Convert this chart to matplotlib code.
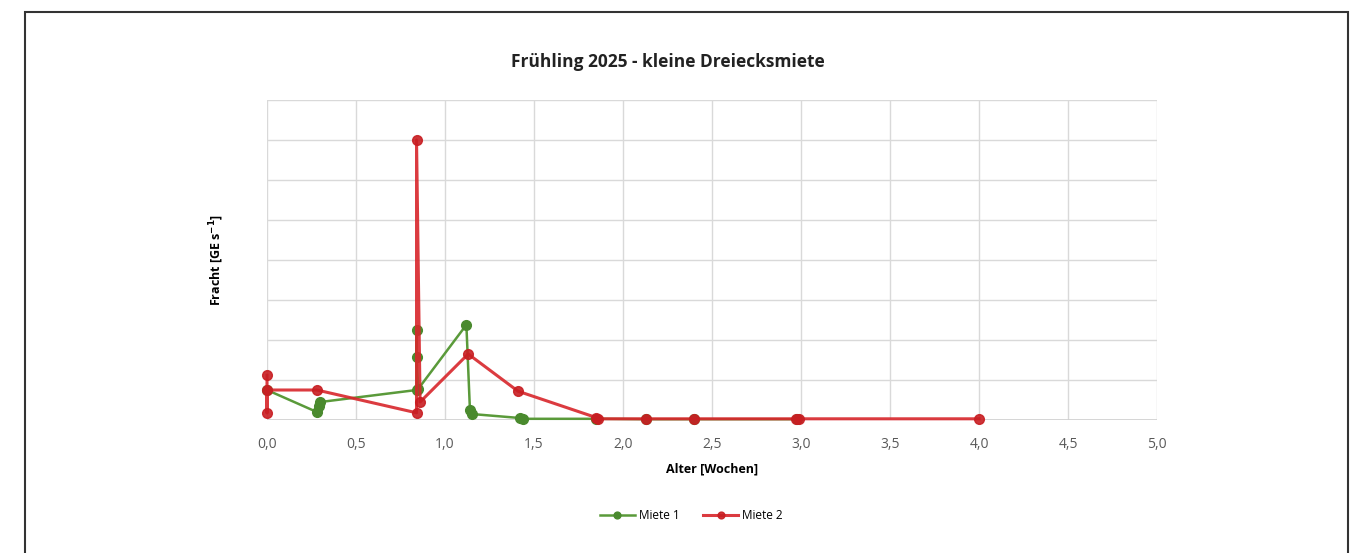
"""
  Fracht ueber Alter der kleinen Dreiecksmiete, Fruehling 2025.
"""
import matplotlib.pyplot as plt
from matplotlib.patches import Rectangle
from matplotlib.ticker import FuncFormatter, MultipleLocator

plt.rcParams['font.family'] = ['Open Sans', 'DejaVu Sans']

# Miete 1
alter_m1 = [0.0, 0.28, 0.29, 0.30, 0.84, 0.84, 0.84, 0.85, 1.12, 1.14, 1.15,
            1.42, 1.44, 1.85, 2.13, 2.40, 2.98]
fracht_m1 = [0.75, 0.20, 0.35, 0.45, 0.75, 2.25, 1.58, 0.78, 2.38, 0.25, 0.15,
             0.05, 0.03, 0.03, 0.02, 0.02, 0.02]

# Miete 2
alter_m2 = [0.0, 0.0, 0.0, 0.28, 0.84, 0.84, 0.86, 1.13, 1.41, 1.85, 1.86,
            2.13, 2.40, 2.97, 2.99, 4.0]
fracht_m2 = [1.12, 0.18, 0.75, 0.75, 0.18, 7.0, 0.45, 1.65, 0.72, 0.06, 0.03,
             0.03, 0.03, 0.03, 0.03, 0.03]

GRUEN = '#5a9a3a'
ROT = '#d8262b'

fig = plt.figure(figsize=(13.63, 5.53), dpi=100)
ax = fig.add_axes([0.1959, 0.2405, 0.653, 0.5787])

ax.plot(alter_m1, fracht_m1, color=GRUEN, lw=1.8, marker='o', ms=7,
        mfc='#4a8a2e', mec='#4a8a2e', label='Miete 1', clip_on=False, zorder=3)
ax.plot(alter_m2, fracht_m2, color=ROT, lw=2.2, marker='o', ms=7, alpha=0.9,
        mfc='#c81e22', mec='#c81e22', label='Miete 2', clip_on=False, zorder=4)

ax.set_xlim(0, 5)
ax.set_ylim(0, 8)
ax.xaxis.set_major_locator(MultipleLocator(0.5))
ax.yaxis.set_major_locator(MultipleLocator(1))
ax.xaxis.set_major_formatter(FuncFormatter(lambda v, p: f'{v:.1f}'.replace('.', ',')))
ax.set_yticklabels([])
ax.tick_params(axis='x', length=0, pad=12, labelsize=10, labelcolor='#595959')
ax.tick_params(axis='y', length=0)
ax.grid(True, color='#d9d9d9', lw=1.0)
ax.set_axisbelow(True)
for s in ax.spines.values():
  s.set_visible(False)
ax.axhline(0, color='#d0d0d0', lw=1.2, zorder=1)

ax.set_xlabel('Alter [Wochen]', fontsize=9, fontweight='bold', labelpad=8)
ax.set_ylabel('Fracht [GE s$^{\\mathbf{-1}}$]', fontsize=9, fontweight='bold', labelpad=26)
fig.text(0.49, 0.887, 'Frühling 2025 - kleine Dreiecksmiete', ha='center', va='center',
         fontsize=12.5, fontweight='bold', color='#222222')

fig.legend(loc='center', bbox_to_anchor=(0.507, 0.067), ncol=2, frameon=False,
           fontsize=8.5, handlelength=3, columnspacing=2.0, handletextpad=0.3,
           markerscale=0.7)

# Rahmen um die Grafik
fig.patches.append(Rectangle((25 / 1363, -0.05), 1323 / 1363, 1 - 12 / 553 + 0.05,
                             transform=fig.transFigure, fill=False,
                             edgecolor='#333333', lw=1.5))

fig.savefig('out.png', dpi=100)
